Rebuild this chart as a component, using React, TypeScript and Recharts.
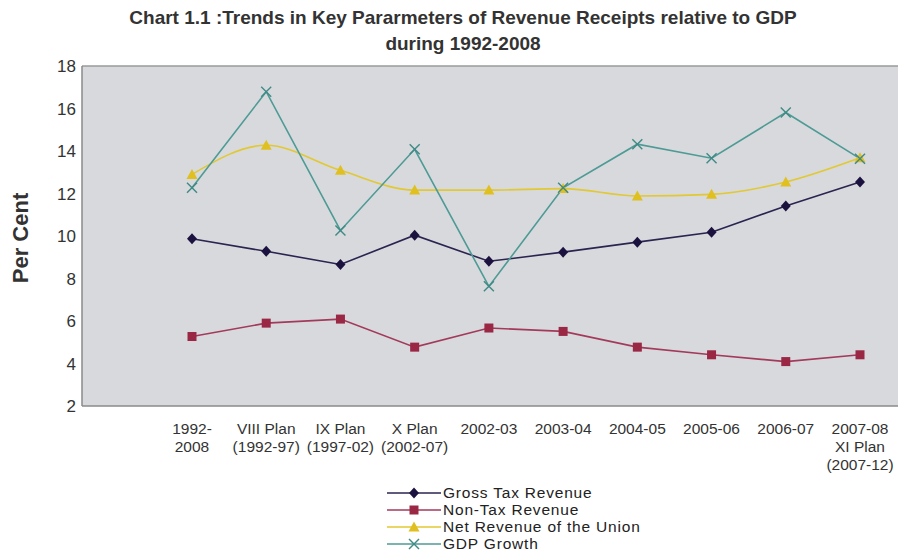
import React from 'react';
import { LineChart, Line, XAxis, YAxis, CartesianGrid, ReferenceLine } from 'recharts';

const categories = [
  '1992-\n2008',
  'VIII Plan\n(1992-97)',
  'IX Plan\n(1997-02)',
  'X Plan\n(2002-07)',
  '2002-03',
  '2003-04',
  '2004-05',
  '2005-06',
  '2006-07',
  '2007-08\nXI Plan\n(2007-12)',
];
const grossTax = [9.87, 9.28, 8.66, 10.04, 8.81, 9.24, 9.71, 10.18, 11.41, 12.54];
const nonTax = [5.27, 5.9, 6.09, 4.77, 5.67, 5.51, 4.77, 4.41, 4.09, 4.41];
const netRevenue = [12.9, 14.27, 13.09, 12.16, 12.16, 12.23, 11.88, 11.96, 12.54, 13.68];
const gdpGrowth = [12.27, 16.79, 10.26, 14.08, 7.63, 12.27, 14.32, 13.66, 15.81, 13.64];
const yTicks = [2, 4, 6, 8, 10, 12, 14, 16, 18];

const series = [
  { key: 'gross', name: 'Gross Tax Revenue', color: '#2b2350', marker: '#1c1240', shape: 'diamond' },
  { key: 'nontax', name: 'Non-Tax Revenue', color: '#a33a5a', marker: '#9a2844', shape: 'square' },
  { key: 'net', name: 'Net Revenue of the Union', color: '#e2c832', marker: '#e0c020', shape: 'triangle' },
  { key: 'gdp', name: 'GDP Growth', color: '#4e9a94', marker: '#3f8a86', shape: 'cross' },
];

const chartData = categories.map((name, i) => ({
  name,
  gross: grossTax[i],
  nontax: nonTax[i],
  net: netRevenue[i],
  gdp: gdpGrowth[i],
}));

const FONT = '"Liberation Sans", Arial, sans-serif';

const Marker = ({ cx, cy, shape, color }: any) => {
  if (cx == null || cy == null) return null;
  if (shape === 'diamond') {
    return <polygon points={`${cx},${cy - 5.5} ${cx + 5},${cy} ${cx},${cy + 5.5} ${cx - 5},${cy}`} fill={color} />;
  }
  if (shape === 'square') {
    return <rect x={cx - 4.5} y={cy - 4.5} width={9} height={9} fill={color} />;
  }
  if (shape === 'triangle') {
    return <polygon points={`${cx},${cy - 5.5} ${cx + 5.5},${cy + 4.5} ${cx - 5.5},${cy + 4.5}`} fill={color} />;
  }
  return (
    <g stroke={color} strokeWidth={1.4}>
      <line x1={cx - 5} y1={cy - 5} x2={cx + 5} y2={cy + 5} />
      <line x1={cx - 5} y1={cy + 5} x2={cx + 5} y2={cy - 5} />
    </g>
  );
};

// multi-line category labels
const XTick = ({ x, y, payload }: any) => {
  const lines = String(payload.value).split('\n');
  return (
    <text x={x} y={y} textAnchor="middle" fontFamily={FONT} fontSize={15.5} fill="#333">
      {lines.map((l, i) => (
        <tspan key={i} x={x} dy={i === 0 ? 20 : 18}>
          {l}
        </tspan>
      ))}
    </text>
  );
};

const LegendBox = () => (
  <div style={{ position: 'absolute', left: 385, top: 484, fontFamily: FONT, fontSize: 15.5, color: '#222' }}>
    {series.map((s) => (
      <div key={s.key} style={{ display: 'flex', alignItems: 'center', height: 17, lineHeight: '17px' }}>
        <svg width={58} height={16} style={{ display: 'block' }}>
          <line x1={2} y1={8} x2={56} y2={8} stroke={s.color} strokeWidth={1.6} />
          <Marker cx={29} cy={8} shape={s.shape} color={s.marker} />
        </svg>
        <span style={{ letterSpacing: 0.8 }}>{s.name}</span>
      </div>
    ))}
  </div>
);

export default function App() {
  return (
    <div style={{ position: 'relative', width: 898, height: 553, background: '#fff', overflow: 'hidden' }}>
      <style>{'body{margin:0}'}</style>
      <div
        style={{
          position: 'absolute',
          left: 0,
          width: 926,
          top: 5,
          textAlign: 'center',
          fontFamily: FONT,
          fontWeight: 'bold',
          fontSize: 19,
          lineHeight: '26px',
          color: '#333',
        }}
      >
        <div>Chart 1.1 :Trends in Key Pararmeters of Revenue Receipts relative to GDP</div>
        <div>during 1992-2008</div>
      </div>
      <div
        style={{
          position: 'absolute',
          left: 21,
          top: 238,
          transform: 'translate(-50%, -50%) rotate(-90deg)',
          fontFamily: FONT,
          fontWeight: 'bold',
          fontSize: 22,
          color: '#333',
          whiteSpace: 'nowrap',
        }}
      >
        Per Cent
      </div>
      <LineChart
        width={898}
        height={553}
        data={chartData}
        margin={{ top: 66, right: 0, bottom: 47, left: 0 }}
      >
        <CartesianGrid horizontal={false} vertical={false} fill="#d7d9dd" />
        <XAxis
          dataKey="name"
          interval={0}
          padding={{ left: 110, right: 38 }}
          height={100}
          tickLine={false}
          tick={<XTick />}
          axisLine={{ stroke: '#8a8a8a', strokeWidth: 1.5 }}
        />
        <YAxis
          domain={[2, 18]}
          ticks={yTicks}
          width={82}
          tickLine={false}
          tickSize={6}
          tickMargin={0}
          axisLine={{ stroke: '#8a8a8a', strokeWidth: 1.5 }}
          tick={{ fontFamily: FONT, fontSize: 17, fill: '#333' }}
        />
        <ReferenceLine y={18} stroke="#9a9a9a" strokeWidth={1.5} />
        {series.map((s) => (
          <Line
            key={s.key}
            dataKey={s.key}
            name={s.name}
            type={s.key === 'net' ? 'monotone' : 'linear'}
            stroke={s.color}
            strokeWidth={1.6}
            dot={(p: any) => <Marker key={`${s.key}-${p.index}`} cx={p.cx} cy={p.cy} shape={s.shape} color={s.marker} />}
            activeDot={false}
            isAnimationActive={false}
          />
        ))}
      </LineChart>
      <LegendBox />
    </div>
  );
}
